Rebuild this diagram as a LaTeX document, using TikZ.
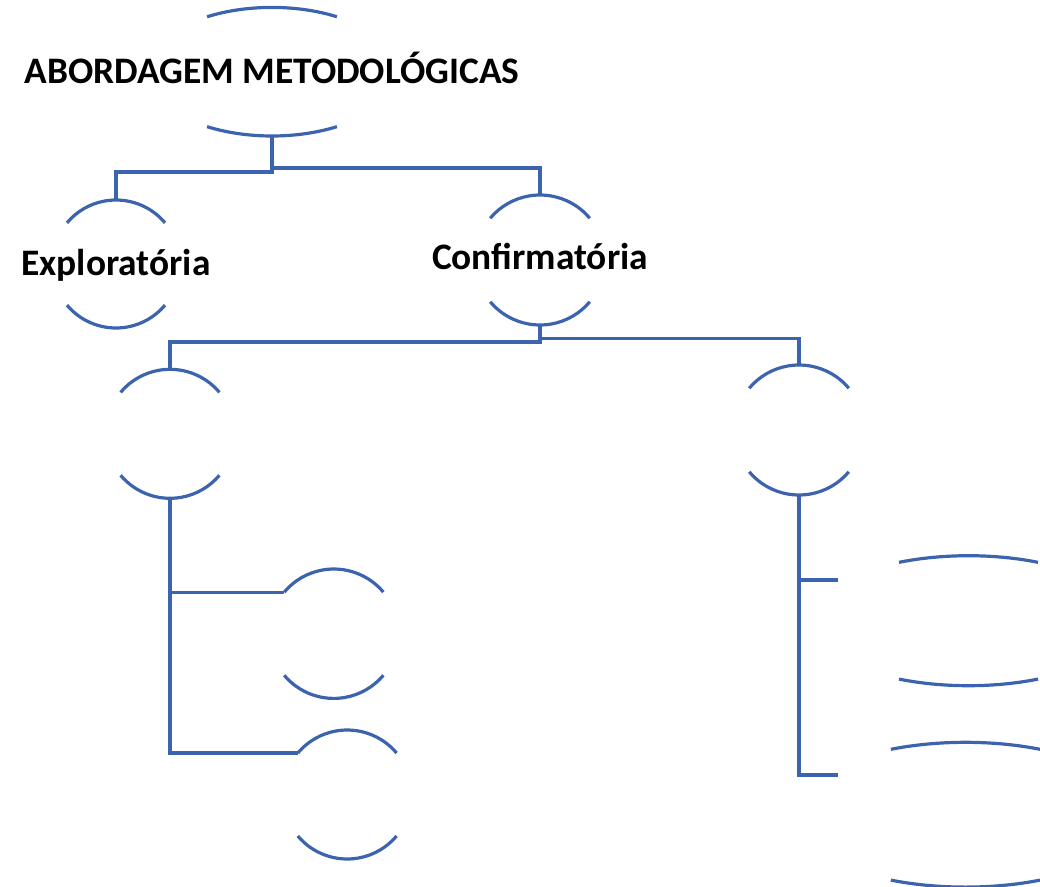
\documentclass[tikz,border=0pt]{standalone}
\usepackage{fontspec}
\setmainfont{Carlito}
\usetikzlibrary{shapes.geometric}
\definecolor{lineblue}{HTML}{3C64AE}
\newcommand\ovalarcs[4]{%
  \draw[arcline] (#1.center) ++(#4:#2 and #3) arc[start angle=#4, end angle=180-#4, x radius=#2, y radius=#3];
  \draw[arcline] (#1.center) ++(180+#4:#2 and #3) arc[start angle=180+#4, end angle=360-#4, x radius=#2, y radius=#3];}
\begin{document}
\begin{tikzpicture}[x=1pt,y=1pt,
  conn/.style={draw=lineblue, line width=3.2pt},
  arcline/.style={draw=lineblue, line width=3.2pt},
  oval/.style={ellipse, inner sep=0pt, outer sep=0pt},
  round/.style={circle, inner sep=0pt, outer sep=0pt},
  lbl/.style={font=\fontsize{37.4}{42}\selectfont\bfseries, text height=23.6pt, text depth=0pt, inner sep=0pt}]
\useasboundingbox (0,0) rectangle (1040,-886);
% shape nodes
\node[oval, minimum width=250, minimum height=128.6] (T) at (272,-71.7) {};
\node[round, minimum size=128] (E) at (116,-264) {};
\node[round, minimum size=130] (C) at (540,-260) {};
\node[round, minimum size=129] (L1) at (170,-433.8) {};
\node[round, minimum size=130] (R1) at (799,-430) {};
\node[round, minimum size=129.4] (L2) at (333.8,-633.7) {};
\node[round, minimum size=129] (L3) at (347.2,-794.5) {};
\node[oval, minimum width=316, minimum height=130] (R2) at (968.5,-620.7) {};
\node[oval, minimum width=348, minimum height=144.8] (R3) at (965.5,-814.7) {};
% arcs
\ovalarcs{T}{125}{64.3}{58.7}
\ovalarcs{E}{64}{64}{40}
\ovalarcs{C}{65}{65}{40}
\ovalarcs{L1}{64.5}{64.5}{40}
\ovalarcs{R1}{65}{65}{40}
\ovalarcs{L2}{64.7}{64.7}{40}
\ovalarcs{L3}{64.5}{64.5}{40}
\ovalarcs{R2}{158}{65}{63.9}
\ovalarcs{R3}{174}{72.4}{64.6}
% labels
\node[lbl] (Tt) at (T.center) {ABORDAGEM METODOLÓGICAS};
\node[lbl] (Et) at (E.center) {Exploratória};
\node[lbl, yshift=2] (Ct) at (C.center) {Confirmatória};
% connectors
\coordinate (jT) at (272,-172);
\coordinate (jT2) at (272,-168);
\draw[conn] (T.south) -- (jT) -| (E.north);
\draw[conn] (jT2) -| (C.north);
\coordinate (jC) at (540,-342);
\coordinate (jC2) at (540,-338.5);
\draw[conn] (C.south) -- (jC) -| (L1.north);
\draw[conn] (jC2) -| (R1.north);
\draw[conn] (L1.south) |- (L3.140);
\draw[conn] (L1.south |- L2.140) -- (L2.140);
\coordinate (r2c) at (837.5,-580);
\coordinate (r3c) at (837.5,-775);
\draw[conn] (R1.south) |- (r3c);
\draw[conn] (R1.south |- r2c) -- (r2c);
\end{tikzpicture}
\end{document}
